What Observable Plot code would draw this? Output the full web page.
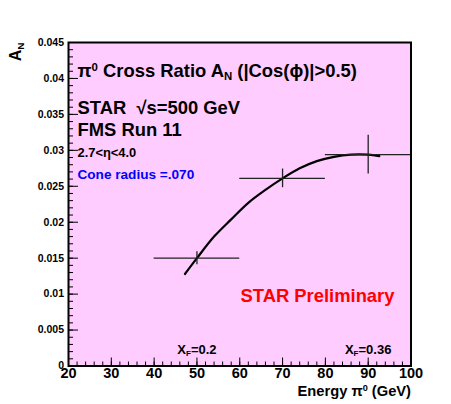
<!DOCTYPE html>
<html><head><meta charset="utf-8">
<script src="https://cdn.jsdelivr.net/npm/d3@7"></script>
<script src="https://cdn.jsdelivr.net/npm/@observablehq/plot@0.6"></script>
<style>
html,body{margin:0;padding:0;background:#fff;}
#chart svg{display:block;background:linear-gradient(#fff,#fff) top left/100% 4px no-repeat, linear-gradient(#fff,#fff) top left/2px 100% no-repeat, #f2f2f2;}
</style></head><body><div id="chart"></div>
<script>
// Data points (energy bins) and asymmetry
const energy = [50, 70, 90];
const energyLow = [40, 60, 80];
const energyHigh = [60, 80, 100];
const asym = [0.0150, 0.0261, 0.0294];
const asymErr = [0.0009, 0.0013, 0.0027];

// Fit curve
const fitEnergy = [47.2, 50, 54, 58, 62, 66, 70, 74, 78, 82, 86, 90, 92.6];
const fitAsym = [0.0128, 0.0150, 0.0180, 0.0204, 0.0227, 0.0245, 0.0261, 0.0275, 0.0285, 0.0291, 0.0294, 0.0294, 0.0292];

// Ticks
const xMajorTicks = [20, 30, 40, 50, 60, 70, 80, 90, 100];
const yMajorTicks = [0, 0.005, 0.01, 0.015, 0.02, 0.025, 0.03, 0.035, 0.04, 0.045];
const yTickLabels = ["0", "0.005", "0.01", "0.015", "0.02", "0.025", "0.03", "0.035", "0.04", "0.045"];
const xMinorTicks = d3.range(20, 100.001, 2);
const yMinorTicks = d3.range(0, 45.001, 1).map(d => d / 1000);

// Texts
const titleText = "π^{0} Cross Ratio A_{N} (|Cos(ϕ)|>0.5)";
const starText = "STAR  √s=500 GeV";
const runText = "FMS Run 11";
const etaText = "2.7<η<4.0";
const coneText = "Cone radius =.070";
const prelimText = "STAR Preliminary";
const xfLabels = [{x: 50, label: "X_{F}=0.2"}, {x: 90, label: "X_{F}=0.36"}];
const xTitle = "Energy π^{0} (GeV)";
const yTitle = "A_{N}";

const points = energy.map((e, i) => ({e, lo: energyLow[i], hi: energyHigh[i], a: asym[i], a1: asym[i] - asymErr[i], a2: asym[i] + asymErr[i]}));
const fit = fitEnergy.map((e, i) => ({e, a: fitAsym[i]}));

const font = "'Liberation Sans', Arial, Helvetica, sans-serif";

const chart = Plot.plot({
  width: 451, height: 404,
  marginLeft: 68, marginRight: 40.5, marginTop: 42, marginBottom: 38.5,
  style: {fontFamily: font, fontWeight: "bold", background: "transparent", overflow: "visible", color: "black"},
  x: {domain: [20, 100], label: null},
  y: {domain: [0, 0.045], label: null},
  marks: [
    Plot.frame({fill: "#ffccff"}),
    // x axis
    Plot.axisX({ticks: xMajorTicks, tickSize: 0, tickPadding: 1.5, fontSize: 14.5, tickFormat: d => String(d), label: null}),
    Plot.axisX({ticks: xMinorTicks, tickSize: -4, tickFormat: () => "", label: null}),
    Plot.axisX({ticks: xMajorTicks, tickSize: -8, tickFormat: () => "", label: null}),
    // y axis
    Plot.axisY({ticks: yMajorTicks, tickSize: 0, tickPadding: 4.5, fontSize: 10.5, tickFormat: (d, i) => yTickLabels[i], label: null}),
    Plot.axisY({ticks: yMinorTicks, tickSize: -5, tickFormat: () => "", label: null}),
    Plot.axisY({ticks: yMajorTicks, tickSize: -10, tickFormat: () => "", label: null}),
    // fit curve
    Plot.line(fit, {x: "e", y: "a", curve: "catmull-rom", stroke: "black", strokeWidth: 2.2}),
    // error bars
    Plot.ruleY(points, {y: "a", x1: "lo", x2: "hi", stroke: "#222", strokeWidth: 1.3}),
    Plot.ruleX(points, {x: "e", y1: "a1", y2: "a2", stroke: "#222", strokeWidth: 1.3}),
    // annotations
    Plot.text([titleText], {frameAnchor: "top-left", dx: 9, dy: 34.7, textAnchor: "start", lineAnchor: "bottom", fontSize: 18.4, fill: "black"}),
    Plot.text([starText], {frameAnchor: "top-left", dx: 9, dy: 71.3, textAnchor: "start", lineAnchor: "bottom", fontSize: 18.4, fill: "black"}),
    Plot.text([runText], {frameAnchor: "top-left", dx: 9, dy: 93.7, textAnchor: "start", lineAnchor: "bottom", fontSize: 18.4, fill: "black"}),
    Plot.text([etaText], {frameAnchor: "top-left", dx: 9, dy: 114.7, textAnchor: "start", lineAnchor: "bottom", fontSize: 12.9, fill: "black"}),
    Plot.text([coneText], {frameAnchor: "top-left", dx: 9, dy: 136.3, textAnchor: "start", lineAnchor: "bottom", fontSize: 13.6, fill: "#0000ff"}),
    Plot.text([prelimText], {frameAnchor: "top-left", dx: 172, dy: 259, textAnchor: "start", lineAnchor: "bottom", fontSize: 18.4, fill: "#ff0000"}),
    Plot.text(xfLabels, {x: "x", text: "label", frameAnchor: "bottom", dy: -12.2, lineAnchor: "bottom", fontSize: 13, fill: "black"}),
    Plot.text([xTitle], {frameAnchor: "bottom-right", dx: 0, dy: 29.5, textAnchor: "end", lineAnchor: "bottom", fontSize: 14.7, fill: "black"}),
    Plot.text([yTitle], {frameAnchor: "top-left", dx: -48, dy: 0, rotate: -90, textAnchor: "end", lineAnchor: "bottom", fontSize: 16, fill: "black"}),
    Plot.frame({stroke: "black", strokeWidth: 2})
  ]
});

// Turn _{..} / ^{..} markup into sub/superscript tspans
d3.select(chart).selectAll("text").each(function() {
  const t = this.textContent;
  if (!/[_^]\{/.test(t)) return;
  const el = d3.select(this);
  el.text(null);
  const re = /([_^])\{([^}]*)\}/g;
  let last = 0, m;
  while ((m = re.exec(t))) {
    if (m.index > last) el.append("tspan").text(t.slice(last, m.index));
    el.append("tspan")
      .attr("font-size", "62%")
      .attr("baseline-shift", m[1] === "^" ? "55%" : "-25%")
      .text(m[2]);
    last = re.lastIndex;
  }
  if (last < t.length) el.append("tspan").text(t.slice(last));
});

document.getElementById("chart").appendChild(chart);
</script>
</body></html>
